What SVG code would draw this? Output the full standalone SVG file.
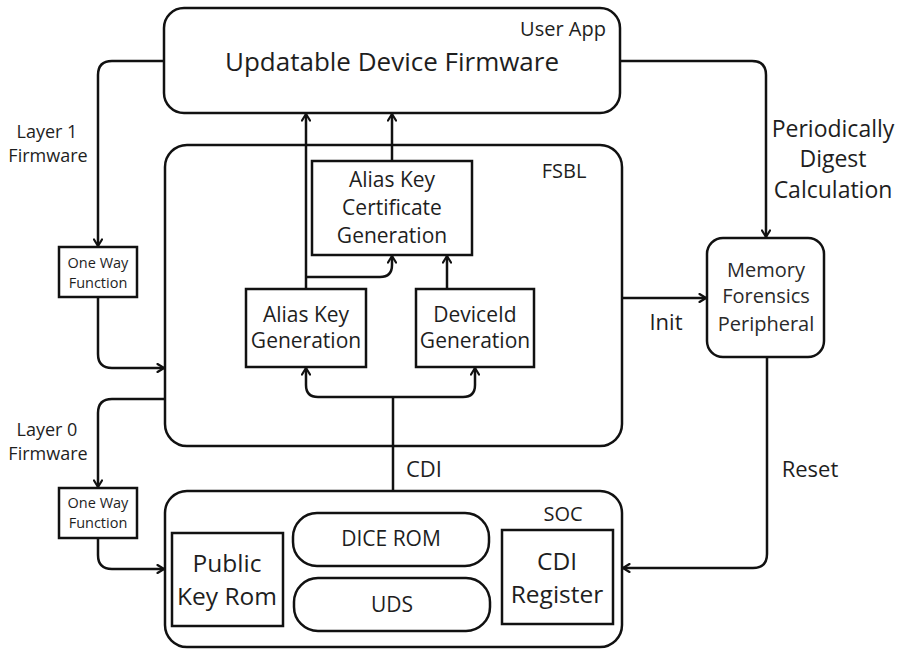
<svg xmlns="http://www.w3.org/2000/svg" width="899" height="649" viewBox="0 0 899 649">
  <style>
    .box { fill: #ffffff; stroke: #111111; stroke-width: 2.5; }
    .wire { fill: none; stroke: #111111; stroke-width: 2.5; }
    text { font-family: "Open Sans", "Noto Sans", "DejaVu Sans", sans-serif; fill: #1e1e1e; text-anchor: middle; }
    .lbl { fill: #2a2a2a; }
  </style>
  <defs>
    <marker id="arrow" viewBox="0 0 10 10" refX="9" refY="5" markerWidth="10" markerHeight="10" markerUnits="userSpaceOnUse" orient="auto">
      <path d="M2.5,1 L9,5 L2.5,9" fill="none" stroke="#111111" stroke-width="2.2" stroke-linejoin="round" stroke-linecap="round"/>
    </marker>
  </defs>

  <rect width="899" height="649" fill="#ffffff"/>

  <!-- containers -->
  <g id="user-app">
    <rect class="box" x="164" y="8" width="456" height="105" rx="20"/>
    <text x="563" y="36" font-size="20">User App</text>
    <text x="392" y="71" font-size="26">Updatable Device Firmware</text>
  </g>

  <g id="fsbl">
    <rect class="box" x="165" y="145" width="457" height="301" rx="22"/>
    <text x="564" y="178" font-size="20">FSBL</text>
  </g>

  <g id="soc">
    <rect class="box" x="165" y="491" width="457" height="156" rx="22"/>
    <text x="563" y="521" font-size="20">SOC</text>
  </g>

  <!-- FSBL contents -->
  <g id="alias-cert">
    <rect class="box" x="312" y="161" width="160" height="94"/>
    <text x="392" y="187" font-size="21">Alias Key</text>
    <text x="392" y="215" font-size="21">Certificate</text>
    <text x="392" y="243" font-size="21">Generation</text>
  </g>

  <g id="alias-key">
    <rect class="box" x="246" y="289" width="120" height="78"/>
    <text x="306" y="322" font-size="21">Alias Key</text>
    <text x="306" y="348" font-size="21">Generation</text>
  </g>

  <g id="device-id">
    <rect class="box" x="416" y="289" width="118" height="78"/>
    <text x="475" y="322" font-size="21">DeviceId</text>
    <text x="475" y="348" font-size="21">Generation</text>
  </g>

  <!-- SOC contents -->
  <g id="public-key-rom">
    <rect class="box" x="172" y="533" width="111" height="93"/>
    <text x="227" y="572" font-size="24.5">Public</text>
    <text x="227" y="605" font-size="24.5">Key Rom</text>
  </g>

  <g id="dice-rom">
    <rect class="box" x="293" y="513" width="196" height="53" rx="24"/>
    <text x="391" y="546" font-size="21">DICE ROM</text>
  </g>

  <g id="uds">
    <rect class="box" x="294" y="578" width="196" height="53" rx="24"/>
    <text x="392" y="612" font-size="21">UDS</text>
  </g>

  <g id="cdi-register">
    <rect class="box" x="502" y="530" width="111" height="94"/>
    <text x="557" y="570" font-size="24.5">CDI</text>
    <text x="557" y="603" font-size="24.5">Register</text>
  </g>

  <!-- side blocks -->
  <g id="memory-forensics">
    <rect class="box" x="707" y="238" width="117" height="119" rx="16"/>
    <text class="lbl" x="766" y="277" font-size="20">Memory</text>
    <text class="lbl" x="766" y="303" font-size="20">Forensics</text>
    <text class="lbl" x="766" y="331" font-size="20">Peripheral</text>
  </g>

  <g id="owf-layer1">
    <rect class="box" x="59" y="247" width="78" height="50"/>
    <text x="98" y="268" font-size="14.5">One Way</text>
    <text x="98" y="288" font-size="14.5">Function</text>
  </g>

  <g id="owf-layer0">
    <rect class="box" x="59" y="488" width="78" height="50"/>
    <text x="98" y="508" font-size="14.5">One Way</text>
    <text x="98" y="528" font-size="14.5">Function</text>
  </g>

  <!-- connectors -->
  <g id="connectors">
    <path class="wire" d="M306,289 V114" marker-end="url(#arrow)"/>
    <path class="wire" d="M392,161 V114" marker-end="url(#arrow)"/>
    <path class="wire" d="M305,277 H380 Q392,277 392,265 V256" marker-end="url(#arrow)"/>
    <path class="wire" d="M447,289 V256" marker-end="url(#arrow)"/>

    <path class="wire" d="M393,491 V397"/>
    <path class="wire" d="M393,397 H318 Q306,397 306,385 V368" marker-end="url(#arrow)"/>
    <path class="wire" d="M393,397 H463 Q475,397 475,385 V368" marker-end="url(#arrow)"/>

    <path class="wire" d="M620,61 H752 Q766,61 766,75 V237" marker-end="url(#arrow)"/>
    <path class="wire" d="M622,298 H706" marker-end="url(#arrow)"/>
    <path class="wire" d="M767,357 V554 Q767,568 753,568 H623" marker-end="url(#arrow)"/>

    <path class="wire" d="M164,61 H112 Q98,61 98,75 V246" marker-end="url(#arrow)"/>
    <path class="wire" d="M98,297 V354 Q98,368 112,368 H164" marker-end="url(#arrow)"/>
    <path class="wire" d="M165,399 H112 Q98,399 98,413 V487" marker-end="url(#arrow)"/>
    <path class="wire" d="M98,538 V555 Q98,569 112,569 H164" marker-end="url(#arrow)"/>
  </g>

  <!-- connector labels -->
  <g id="labels">
    <text x="47" y="138" font-size="18">Layer 1</text>
    <text x="48" y="162" font-size="18">Firmware</text>
    <text x="47" y="436" font-size="18">Layer 0</text>
    <text x="48" y="460" font-size="18">Firmware</text>
    <text x="833" y="137" font-size="23">Periodically</text>
    <text x="833" y="167" font-size="23">Digest</text>
    <text x="833" y="198" font-size="23">Calculation</text>
    <text x="666" y="330" font-size="22">Init</text>
    <text x="424" y="477" font-size="22">CDI</text>
    <text x="810" y="477" font-size="22">Reset</text>
  </g>
</svg>
